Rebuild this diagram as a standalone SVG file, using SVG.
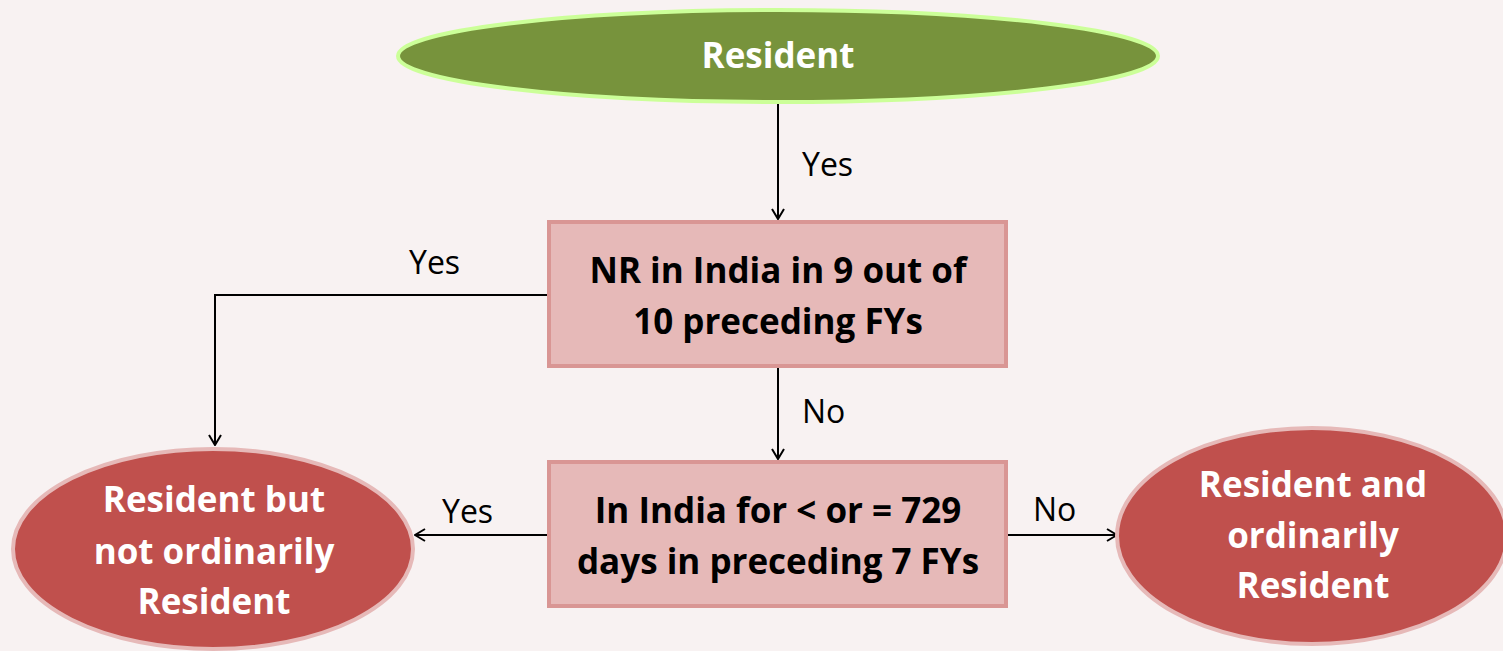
<svg xmlns="http://www.w3.org/2000/svg" width="1503" height="651" viewBox="0 0 1503 651">
<defs>
<style>
.node-t{font-family:"Open Sans","Noto Sans","Liberation Sans",sans-serif;font-weight:bold;font-size:35px;text-anchor:middle}
.lbl{font-family:"Open Sans","Noto Sans","Liberation Sans",sans-serif;font-size:32px;fill:#000}
.box{fill:#e6b9b8;stroke:#d99694;stroke-width:4}
.red{fill:#c0504d;stroke:#e6b9b8;stroke-width:4}
.conn{fill:none;stroke:#000;stroke-width:2}
</style>
<marker id="arr" viewBox="0 0 12 14" refX="11" refY="7" markerWidth="12" markerHeight="14" markerUnits="userSpaceOnUse" orient="auto">
<path d="M1,1 L11,7 L1,13" fill="none" stroke="#000" stroke-width="2"/>
</marker>
</defs>
<rect width="1503" height="651" fill="#f8f2f2"/>
<g id="connectors">
<line class="conn" x1="778" y1="103" x2="778" y2="219" marker-end="url(#arr)"/>
<polyline class="conn" points="548,295 215,295 215,445" marker-end="url(#arr)"/>
<line class="conn" x1="778" y1="367" x2="778" y2="459" marker-end="url(#arr)"/>
<line class="conn" x1="548" y1="535" x2="415" y2="535" marker-end="url(#arr)"/>
<line class="conn" x1="1006" y1="535" x2="1117" y2="535" marker-end="url(#arr)"/>
<text class="lbl" x="802" y="176">Yes</text>
<text class="lbl" x="409" y="274">Yes</text>
<text class="lbl" x="802" y="423">No</text>
<text class="lbl" x="442" y="523">Yes</text>
<text class="lbl" x="1033" y="521">No</text>
</g>
<g id="resident">
<ellipse cx="778" cy="56" rx="380" ry="46" fill="#77933c" stroke="#ccff99" stroke-width="4"/>
<text class="node-t" x="778" y="68" fill="#fff">Resident</text>
</g>
<g id="nr-check">
<rect class="box" x="549" y="222" width="457" height="144"/>
<text class="node-t" x="778" y="283" fill="#000">NR in India in 9 out of</text>
<text class="node-t" x="778" y="334" fill="#000">10 preceding FYs</text>
</g>
<g id="days-check">
<rect class="box" x="549" y="462" width="457" height="144"/>
<text class="node-t" x="778" y="523" fill="#000">In India for &lt; or = 729</text>
<text class="node-t" x="778" y="574" fill="#000">days in preceding 7 FYs</text>
</g>
<g id="rnor">
<ellipse class="red" cx="213" cy="549" rx="200" ry="100"/>
<text class="node-t" x="214" y="512" fill="#fff">Resident but</text>
<text class="node-t" x="214" y="564" fill="#fff">not ordinarily</text>
<text class="node-t" x="214" y="614" fill="#fff">Resident</text>
</g>
<g id="ror">
<ellipse class="red" cx="1312" cy="536" rx="195" ry="108"/>
<text class="node-t" x="1313" y="497" fill="#fff">Resident and</text>
<text class="node-t" x="1313" y="548" fill="#fff">ordinarily</text>
<text class="node-t" x="1313" y="598" fill="#fff">Resident</text>
</g>
</svg>
